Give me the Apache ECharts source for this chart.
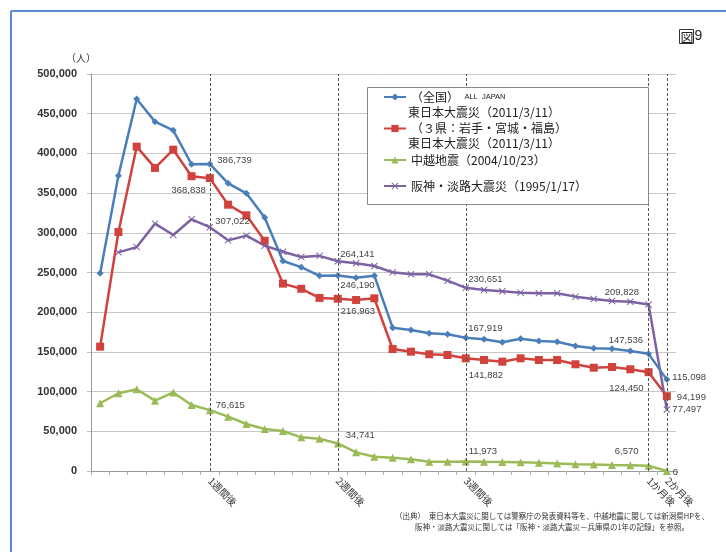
<!DOCTYPE html>
<html><head><meta charset="utf-8">
<script src="https://cdn.jsdelivr.net/npm/echarts@6/dist/echarts.min.js"></script>
<style>html,body{margin:0;padding:0;background:#fff}#c{width:726px;height:552px}</style>
</head><body><div id="c"></div>
<script>
// ---- data ----
const categories = ['1','2','3','4','5','6','7','8','9','10','11','12','13','14','15','16','17','18','19','20','21','22','23','24','25','26','27','28','29','30','31','60'];
const tickLabels = {6:'1週間後',13:'2週間後',20:'3週間後',30:'1か月後',31:'2か月後'};
const seriesNames = ['（全国） ALL JAPAN','（３県：岩手・宮城・福島）','中越地震（2004/10/23）','阪神・淡路大震災（1995/1/17）'];
const subLines = ['東日本大震災（2011/3/11）','東日本大震災（2011/3/11）'];
const allJapan = [249000,372000,468500,440000,429000,386300,386739,362300,349700,319200,264500,256700,245800,246190,243500,246000,180500,177600,173400,172100,167919,165800,162100,166600,163700,162800,157400,154500,154000,151100,147536,115098];
const threePref = [156600,301000,408500,381700,404700,371300,368838,335400,322000,290000,236000,229500,218000,216963,215400,217500,153600,150300,147000,146100,141882,139800,137700,141900,139800,139800,134400,130100,131000,128100,124450,94199];
const chuetsu = [85300,97900,102900,88600,98900,83100,76615,68400,59200,52900,50400,42400,40700,34741,23500,18000,16800,14700,11700,11700,11973,11500,11200,10900,10400,9500,8600,8100,7600,7200,6570,0];
const hanshin = [null,275400,282000,311500,297200,317000,307022,290500,296400,283800,276200,269500,271000,264141,261600,258200,250200,247700,247700,239700,230651,228000,226300,224600,223800,223800,219600,216600,214100,213200,209828,77497];
const markIdx = [6,13,20,30,31];
const yTicks = {min:0, max:500000, interval:50000};
const footnote = ['（出典）　東日本大震災に関しては警察庁の発表資料等を、中越地震に関しては新潟県HPを、','阪神・淡路大震災に関しては「阪神・淡路大震災－兵庫県の1年の記録」を参照。'];

// ---- styles ----
const colors = ['#4a7ebb','#d2423d','#9bbb59','#7d62a3'];
const xPath = 'path://M0,1L1,0L5,4L9,0L10,1L6,5L10,9L9,10L5,6L1,10L0,9L4,5Z';
const symbols = ['diamond','rect','triangle',xPath];
const labelPos = [
  {6:['right',0,-4],13:['right',-5,10],20:['right',-5,-9],30:['left',2,-13],31:['right',-2,-2]},
  {6:['left',4,12],13:['right',-5,13],20:['right',-5,17],30:['left',3,16],31:['right',2,1]},
  {6:['right',-2,-5],13:['right',0,-8],20:['right',-5,-10],30:['left',-2,-14],31:['right',-2,1]},
  {6:['right',-2,-6],13:['right',-5,-7],20:['right',-5,-8],30:['left',-2,-12],31:['right',-2,0]}
];
const fmt = v => Number(v).toLocaleString('en-US');
const jp = '"Noto Sans CJK JP", "Noto Sans", sans-serif';

function mkData(arr, si){
  return arr.map((v,i)=>{
    const lp = labelPos[si][i];
    if(!lp || v===null) return v;
    return {value:v, label:{show:true, position:lp[0], offset:[lp[1],lp[2]], distance:4,
      formatter:p=>fmt(p.value), fontSize:9.5, color:'#444', fontFamily:'"Liberation Sans", Arial, sans-serif'}};
  });
}
const rawSeries = [allJapan, threePref, chuetsu, hanshin];
const symSizes = [7,8,8,7];
const series = rawSeries.map((arr,si)=>({
  name: seriesNames[si], type:'line', data: mkData(arr, si),
  symbol: symbols[si], symbolSize: symSizes[si], showAllSymbol:true,
  lineStyle:{width:2.5, color:colors[si]}, itemStyle:{color:colors[si]},
  z: 3+(si===0?1:0), animation:false, connectNulls:false
}));
series[0].markLine = {silent:true, symbol:'none', label:{show:false}, animation:false,
  lineStyle:{type:[3,2], color:'#555', width:1}, data: markIdx.map(i=>({xAxis:i}))};

const chart = echarts.init(document.getElementById('c'));
chart.setOption({
  backgroundColor:'#fff',
  animation:false,
  color: colors,
  grid:{left:91, right:50, top:74, bottom:81},
  xAxis:{type:'category', data:categories, boundaryGap:true,
    axisLine:{lineStyle:{color:'#999'}}, axisTick:{show:true, length:4, lineStyle:{color:'#aaa'}},
    axisLabel:{interval:0, rotate:-45, fontSize:10, color:'#333', fontFamily:jp, margin:8,
      formatter:(v,i)=>tickLabels[i]||''},
    splitLine:{show:false}},
  yAxis:{type:'value', min:yTicks.min, max:yTicks.max, interval:yTicks.interval,
    axisLine:{show:true, lineStyle:{color:'#999'}}, axisTick:{show:true, length:4, lineStyle:{color:'#bbb'}},
    axisLabel:{fontSize:11, fontWeight:'bold', color:'#333', margin:14, fontFamily:'"Liberation Sans", Arial, sans-serif', formatter:v=>fmt(v)},
    splitLine:{lineStyle:{color:'#c8c8c8', width:1}}},
  legend:[
    {orient:'vertical', left:383, top:90, padding:0, itemGap:17.5, itemWidth:22, itemHeight:9, z:10,
      data:seriesNames.slice(0,3),
      textStyle:{fontSize:12, color:'#222', fontFamily:jp, lineHeight:14, rich:{s:{fontSize:7.5, color:'#222', fontFamily:'"Liberation Sans", Arial, sans-serif'}}},
      formatter:n=> n===seriesNames[0] ? '（全国）  {s|ALL  JAPAN}' : n},
    {orient:'vertical', left:383, top:179, padding:0, itemWidth:22, itemHeight:9, z:10,
      data:[seriesNames[3]],
      textStyle:{fontSize:12, color:'#222', fontFamily:jp, lineHeight:14}}
  ],
  graphic:[
    {type:'line', shape:{x1:11, y1:11, x2:726, y2:11}, style:{stroke:'#5b8bd0', lineWidth:2}, z:1},
    {type:'line', shape:{x1:11, y1:11, x2:11, y2:552}, style:{stroke:'#5b8bd0', lineWidth:2}, z:1},
    {type:'rect', shape:{x:367.5, y:87.5, width:281, height:117}, style:{fill:'#fff', stroke:'#888', lineWidth:1}, z:8},
    {type:'text', left:408, top:106, z:10, style:{text:subLines[0], fontSize:12, fill:'#222', fontFamily:jp}},
    {type:'text', left:408, top:137, z:10, style:{text:subLines[1], fontSize:12, fill:'#222', fontFamily:jp}},
    {type:'text', left:66, top:53, z:10, style:{text:'（人）', fontSize:10, fill:'#333', fontFamily:jp}},
    {type:'text', left:679, top:29, z:10, style:{text:'{b|図}{n|9}', rich:{
      b:{fontSize:13, fontFamily:jp, borderColor:'#333', borderWidth:1, padding:[1,0,0,1], fill:'#222'},
      n:{fontSize:14, fontFamily:'"Liberation Sans", Arial, sans-serif', fill:'#222', padding:[0,0,0,1]}}}},
    {type:'text', x:552, y:512, z:10, style:{text:footnote[0], fontSize:7.5, fill:'#333', fontFamily:jp, textAlign:'center'}},
    {type:'text', x:552, y:523, z:10, style:{text:footnote[1], fontSize:7.5, fill:'#333', fontFamily:jp, textAlign:'center'}}
  ],
  series: series
});
</script></body></html>
